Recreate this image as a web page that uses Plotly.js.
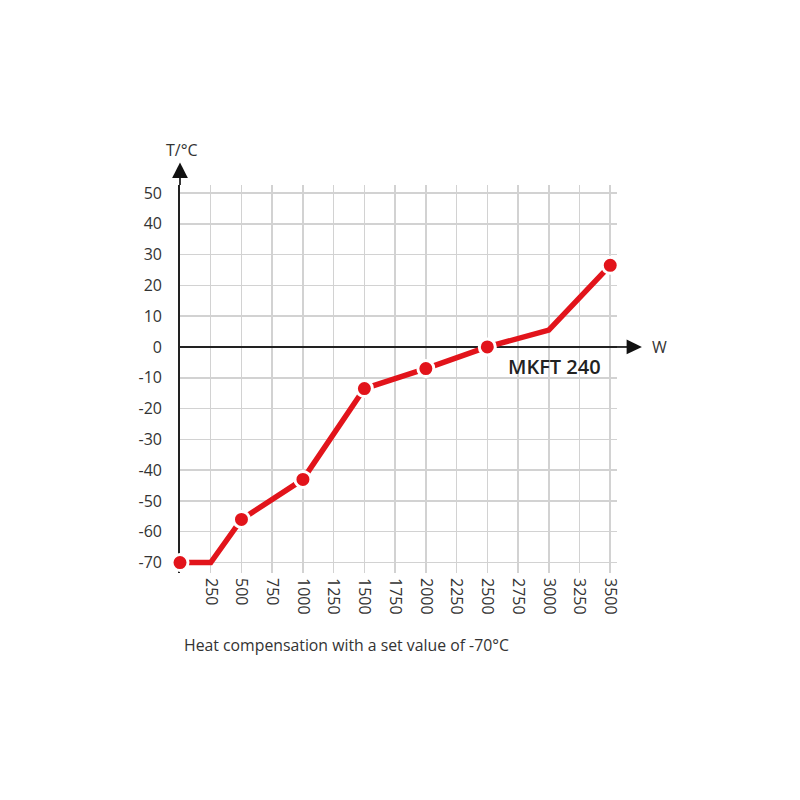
<!DOCTYPE html>
<html><head><meta charset="utf-8">
<script src="https://cdn.plot.ly/plotly-3.0.1.min.js"></script>
<style>body{margin:0;background:#fff}#c{width:800px;height:800px}</style>
</head><body><div id="c"></div>
<script>
const powerW = [0, 250, 500, 1000, 1500, 2000, 2500, 3000, 3500];
const tempC = [-70, -70, -56, -43, -13.5, -7, 0, 5.5, 26.5];
const markerPower = [0, 500, 1000, 1500, 2000, 2500, 3500];
const markerTemp = [-70, -56, -43, -13.5, -7, 0, 26.5];
const xTicks = [250,500,750,1000,1250,1500,1750,2000,2250,2500,2750,3000,3250,3500];
const yTicks = [50,40,30,20,10,0,-10,-20,-30,-40,-50,-60,-70];
const seriesName = "MKFT 240";
const caption = "Heat compensation with a set value of -70°C";

const red = '#e2141b';
const font = '"Open Sans", Lato, sans-serif';
const yMin = -73.4, yMax = 52.6;
const yp = v => (v - yMin) / (yMax - yMin);
const y0p = yp(0);
const traces = [
  {x: powerW, y: tempC, mode: 'lines', line: {color: red, width: 5.5}, hoverinfo: 'skip', cliponaxis: false},
  {x: markerPower, y: markerTemp, mode: 'markers', cliponaxis: false,
    marker: {color: red, size: 16, line: {color: '#fff', width: 3}}}
];
const layout = {
  width: 800, height: 800, showlegend: false,
  paper_bgcolor: '#fff', plot_bgcolor: '#fff',
  margin: {l: 180, r: 183, t: 185, b: 227},
  font: {family: font, color: '#333', size: 16},
  xaxis: {range: [0, 3555], tickvals: xTicks, ticktext: xTicks.map(String), tickangle: 90,
    showgrid: true, gridcolor: '#d2d2d2', gridwidth: 1.5, zeroline: false, showline: false, ticks: '',
    tickfont: {size: 16, color: '#333'}, ticklabelstandoff: 4, fixedrange: true},
  yaxis: {range: [yMin, yMax], tickvals: yTicks, ticktext: yTicks.map(String),
    showgrid: true, gridcolor: '#d2d2d2', gridwidth: 1.5,
    zeroline: true, zerolinecolor: '#222', zerolinewidth: 1.8,
    showline: true, linecolor: '#222', linewidth: 1.8, layer: 'below traces', ticks: '',
    tickfont: {size: 16, color: '#333'}, ticklabelstandoff: 13, fixedrange: true},
  shapes: [
    {type: 'line', xref: 'paper', yref: 'paper', x0: 0.99, x1: 1.025, y0: y0p, y1: y0p, line: {color: '#222', width: 1.8}},
    {type: 'path', xref: 'paper', yref: 'paper', path: `M 1.022 ${y0p+0.019} L 1.057 ${y0p} L 1.022 ${y0p-0.019} Z`, fillcolor: '#111', line: {width: 0}},
    {type: 'line', xref: 'paper', yref: 'paper', x0: 0, x1: 0, y0: 1.0, y1: 1.02, line: {color: '#222', width: 1.8}},
    {type: 'path', xref: 'paper', yref: 'paper', path: 'M -0.018 1.018 L 0 1.058 L 0.018 1.018 Z', fillcolor: '#111', line: {width: 0}}
  ],
  annotations: [
    {xref: 'x', yref: 'y', x: 3445, y: -6.5, xanchor: 'right', yanchor: 'middle', text: seriesName, showarrow: false,
      font: {size: 20, color: '#222', family: font, weight: 600}},
    {xref: 'paper', yref: 'paper', x: 1.075, y: y0p, xanchor: 'left', yanchor: 'middle', text: 'W', showarrow: false,
      font: {size: 16, color: '#333'}},
    {xref: 'paper', yref: 'paper', x: 0.004, y: 1.09, xanchor: 'center', yanchor: 'middle', text: 'T/°C', showarrow: false,
      font: {size: 16, color: '#333'}},
    {xref: 'paper', yref: 'paper', x: 0.005, y: -0.186, xanchor: 'left', yanchor: 'middle', text: caption, showarrow: false,
      font: {size: 15.8, color: '#333'}}
  ]
};
Plotly.newPlot('c', traces, layout, {displayModeBar: false, staticPlot: true});
</script></body></html>
